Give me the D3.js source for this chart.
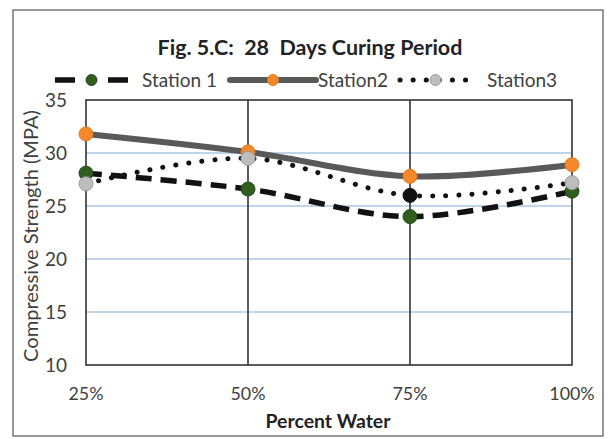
<!DOCTYPE html>
<html>
<head>
<meta charset="utf-8">
<script src="https://cdn.jsdelivr.net/npm/d3@7"></script>
<style>
  body { margin: 0; background: #fff; }
  svg { font-family: Lato, "Open Sans", sans-serif; }
  text { white-space: pre; }
</style>
</head>
<body>
<div id="chart"></div>
<script>
// chart data
const categories = ["25%", "50%", "75%", "100%"];
const station1 = [28.1, 26.6, 24.0, 26.4];
const station2 = [31.8, 30.1, 27.8, 28.9];
const station3 = [27.1, 29.5, 26.0, 27.2];
const yTicks = [10, 15, 20, 25, 30, 35];

const W = 616, H = 439;
const margin = {top: 100, right: 44, bottom: 74, left: 86};
const width = W - margin.left - margin.right;
const height = H - margin.top - margin.bottom;

// scale a text's font size so it spans a given width
function fit(sel, target) {
    let fs = +sel.attr("font-size");
    let w = sel.node().getComputedTextLength();
    if (w > 0) sel.attr("font-size", (fs * target / w).toFixed(2));
    return sel;
}

const svg = d3.select("#chart").append("svg")
    .attr("width", W)
    .attr("height", H);

// outer frame
svg.append("rect")
    .attr("x", 13).attr("y", 10)
    .attr("width", 590).attr("height", 426)
    .attr("fill", "#fff")
    .attr("stroke", "#777")
    .attr("stroke-width", 1.5);

const g = svg.append("g")
    .attr("transform", `translate(${margin.left},${margin.top})`);

const x = d3.scalePoint().domain(categories).range([0, width]);
const y = d3.scaleLinear().domain([10, 35]).range([height, 0]);

// horizontal gridlines
g.selectAll(".hgrid")
    .data(yTicks.filter(d => d > 10 && d < 35))
    .enter().append("line")
    .attr("class", "hgrid")
    .attr("x1", 0).attr("x2", width)
    .attr("y1", d => y(d)).attr("y2", d => y(d))
    .attr("stroke", "#a9c7e6")
    .attr("stroke-width", 1.5);

// vertical gridlines
g.selectAll(".vgrid")
    .data(categories.slice(1, -1))
    .enter().append("line")
    .attr("class", "vgrid")
    .attr("x1", d => x(d)).attr("x2", d => x(d))
    .attr("y1", 0).attr("y2", height)
    .attr("stroke", "#333")
    .attr("stroke-width", 1.6);

// plot border
g.append("rect")
    .attr("width", width).attr("height", height)
    .attr("fill", "none")
    .attr("stroke", "#333")
    .attr("stroke-width", 1.6);

// y axis labels
const ylabs = g.selectAll(".ylab")
    .data(yTicks)
    .enter().append("text")
    .attr("class", "ylab")
    .attr("x", -19)
    .attr("y", d => y(d))
    .attr("dy", "0.35em")
    .attr("text-anchor", "end")
    .attr("font-size", 18)
    .attr("fill", "#404040")
    .text(d => d);
const yfs = (() => { let t = ylabs.filter(d => d === 35); fit(t, 22); return t.attr("font-size"); })();
ylabs.attr("font-size", yfs);

// x axis labels
const xlabs = g.selectAll(".xlab")
    .data(categories)
    .enter().append("text")
    .attr("class", "xlab")
    .attr("x", d => x(d))
    .attr("y", height + 35)
    .attr("text-anchor", "middle")
    .attr("font-size", 18)
    .attr("fill", "#404040")
    .text(d => d);
const xfs = (() => { let t = xlabs.filter(d => d === "25%"); fit(t, 35); return t.attr("font-size"); })();
xlabs.attr("font-size", xfs);

// titles
fit(svg.append("text")
    .attr("x", 310).attr("y", 55)
    .attr("text-anchor", "middle")
    .attr("font-size", 20).attr("font-weight", "bold")
    .attr("fill", "#222")
    .text("Fig. 5.C:  28  Days Curing Period"), 305);

fit(svg.append("text")
    .attr("x", 328).attr("y", 428)
    .attr("text-anchor", "middle")
    .attr("font-size", 18).attr("font-weight", "bold")
    .attr("fill", "#222")
    .text("Percent Water"), 125);

fit(svg.append("text")
    .attr("transform", `translate(38,236) rotate(-90)`)
    .attr("text-anchor", "middle")
    .attr("font-size", 18)
    .attr("fill", "#404040")
    .text("Compressive Strength (MPA)"), 252);

const series = [
    {name: "Station 1", values: station1, stroke: "#111", width: 5.5, dash: "16,9", cap: "butt", fill: "#2f5e1e", edge: "#24491a"},
    {name: "Station2", values: station2, stroke: "#595959", width: 6, dash: null, cap: "round", fill: "#f5882a", edge: "#e07a20"},
    {name: "Station3", values: station3, stroke: "#111", width: 5, dash: "0.1,13", cap: "round", fill: "#bdbdbd", edge: "#9a9a9a"}
];

const line = d3.line()
    .x((d, i) => x(categories[i]))
    .y(d => y(d))
    .curve(d3.curveCatmullRom);

series.forEach(s => {
    g.append("path")
        .datum(s.values)
        .attr("d", line)
        .attr("fill", "none")
        .attr("stroke", s.stroke)
        .attr("stroke-width", s.width)
        .attr("stroke-linecap", s.cap)
        .attr("stroke-dasharray", s.dash);
});

series.forEach((s, si) => {
    g.selectAll(".pt" + si)
        .data(s.values)
        .enter().append("circle")
        .attr("cx", (d, i) => x(categories[i]))
        .attr("cy", d => y(d))
        .attr("r", 7)
        .attr("fill", (d, i) => (si === 2 && i === 2) ? "#111" : s.fill)
        .attr("stroke", (d, i) => (si === 2 && i === 2) ? "#111" : s.edge)
        .attr("stroke-width", 1);
});

// legend
const legend = svg.append("g").attr("transform", "translate(0,80)");
const legendItems = [
    {x1: 55, x2: 128, tx: 142, tw: 75, dash: "20,33"},
    {x1: 230, x2: 316, tx: 318, tw: 70, dash: null},
    {x1: 400, x2: 471, tx: 487, tw: 70, dash: "0.1,13"}
];
let lfs = null;
series.forEach((s, i) => {
    const it = legendItems[i];
    legend.append("line")
        .attr("x1", it.x1).attr("x2", it.x2)
        .attr("y1", 0).attr("y2", 0)
        .attr("stroke", s.stroke)
        .attr("stroke-width", s.width)
        .attr("stroke-linecap", s.cap)
        .attr("stroke-dasharray", it.dash);
    legend.append("circle")
        .attr("cx", (it.x1 + it.x2) / 2).attr("cy", 0)
        .attr("r", 5.5)
        .attr("fill", s.fill)
        .attr("stroke", s.edge);
    const t = legend.append("text")
        .attr("x", it.tx).attr("y", 0)
        .attr("dy", "0.35em")
        .attr("font-size", 18)
        .attr("fill", "#404040")
        .text(s.name);
    if (i === 0) { fit(t, it.tw); lfs = t.attr("font-size"); }
    else t.attr("font-size", lfs);
});
</script>
</body>
</html>
